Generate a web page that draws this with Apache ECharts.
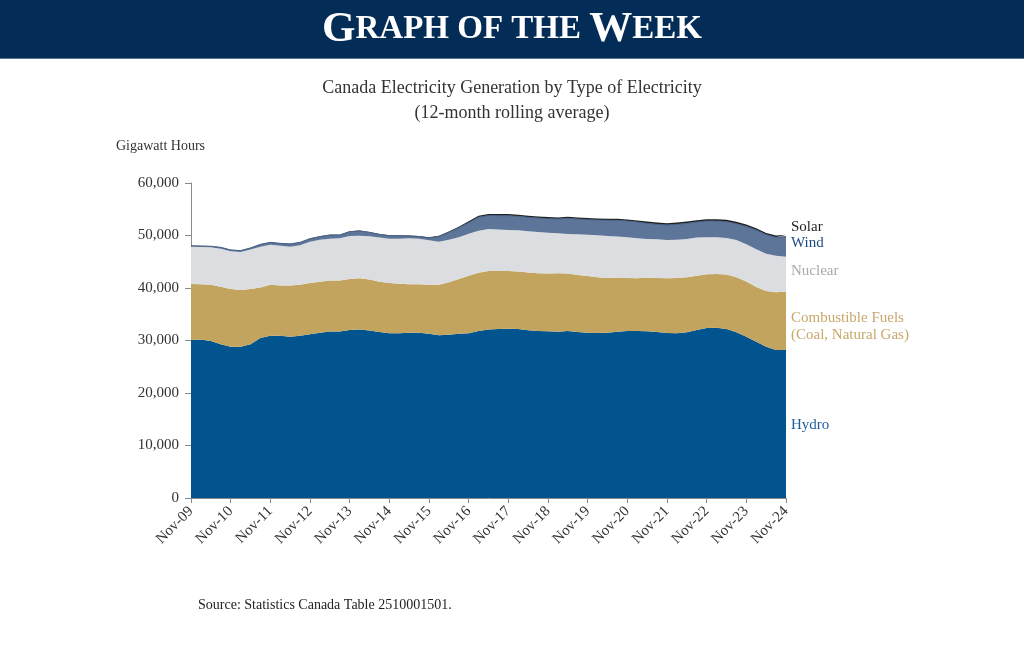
<!DOCTYPE html>
<html>
<head>
<meta charset="utf-8">
<title>Canada Electricity Generation by Type of Electricity</title>
<script src="https://cdn.jsdelivr.net/npm/echarts@6/dist/echarts.min.js"></script>
<style>
  html, body { margin: 0; padding: 0; background: #fff; }
  #main { width: 1024px; height: 664px; }
</style>
</head>
<body>
<div id="main"></div>
<script>
// quarterly points, Nov-09 .. Nov-24 (GWh)
var periods = [
  'Nov-09','Feb-10','May-10','Aug-10','Nov-10','Feb-11','May-11','Aug-11',
  'Nov-11','Feb-12','May-12','Aug-12','Nov-12','Feb-13','May-13','Aug-13',
  'Nov-13','Feb-14','May-14','Aug-14','Nov-14','Feb-15','May-15','Aug-15',
  'Nov-15','Feb-16','May-16','Aug-16','Nov-16','Feb-17','May-17','Aug-17',
  'Nov-17','Feb-18','May-18','Aug-18','Nov-18','Feb-19','May-19','Aug-19',
  'Nov-19','Feb-20','May-20','Aug-20','Nov-20','Feb-21','May-21','Aug-21',
  'Nov-21','Feb-22','May-22','Aug-22','Nov-22','Feb-23','May-23','Aug-23',
  'Nov-23','Feb-24','May-24','Aug-24','Nov-24'
];

var hydro = [
  30100, 30200, 29900, 29300, 28800, 28800, 29300, 30500,
  30900, 30900, 30700, 30900, 31200, 31500, 31700, 31700,
  32000, 32100, 31900, 31600, 31400, 31400, 31500, 31500,
  31300, 31000, 31100, 31300, 31400, 31800, 32100, 32200,
  32250, 32200, 31940, 31810, 31750, 31690, 31810, 31620,
  31500, 31430, 31500, 31690, 31810, 31810, 31750, 31620,
  31430, 31370, 31560, 32000, 32390, 32450, 32200, 31560,
  30730, 29780, 28830, 28190, 28190
];

var fuels = [
  10670, 10500, 10700, 10950, 11000, 10800, 10500, 9600,
  9700, 9600, 9800, 9700, 9750, 9700, 9750, 9750,
  9720, 9750, 9700, 9600, 9550, 9430, 9200, 9200,
  9300, 9600, 10000, 10420, 10950, 11100, 11140, 11040,
  10990, 10920, 10990, 10990, 10990, 11110, 10930, 10860,
  10790, 10610, 10420, 10290, 10110, 10040, 10230, 10300,
  10420, 10550, 10480, 10350, 10220, 10230, 10350, 10480,
  10490, 10420, 10600, 10990, 11120
];

var nuclear = [
  7110, 7120, 7150, 7250, 7200, 7260, 7510, 7780,
  7660, 7570, 7380, 7530, 7880, 8010, 7950, 8020,
  8190, 8120, 8250, 8400, 8450, 8570, 8770, 8700,
  8480, 8230, 8110, 7940, 8000, 8020, 8010, 7880,
  7810, 7870, 7870, 7870, 7800, 7610, 7550, 7740,
  7870, 7990, 7990, 7810, 7740, 7620, 7360, 7360,
  7300, 7290, 7300, 7250, 7050, 6980, 6980, 7110,
  7100, 7170, 7110, 6980, 6660
];

var wind = [
  170, 190, 200, 250, 250, 260, 320, 440,
  440, 440, 510, 570, 570, 580, 700, 630,
  820, 890, 750, 620, 570, 570, 440, 390,
  450, 960, 1390, 1830, 2100, 2580, 2550, 2660,
  2730, 2670, 2670, 2670, 2670, 2740, 2990, 2930,
  2860, 2930, 2990, 3110, 3110, 3110, 2980, 2850,
  2860, 2920, 2980, 2980, 3110, 3110, 3110, 3110,
  3430, 3680, 3620, 3500, 3820
];

var solar = [
  10, 10, 10, 10, 20, 20, 20, 20,
  30, 30, 30, 30, 50, 50, 50, 50,
  80, 80, 80, 80, 100, 100, 100, 100,
  130, 160, 180, 200, 250, 280, 300, 300,
  300, 300, 300, 300, 300, 300, 300, 300,
  300, 300, 300, 300, 300, 300, 340, 340,
  340, 340, 340, 340, 340, 340, 340, 340,
  340, 340, 340, 340, 340
];

var yTicks = [0, 10000, 20000, 30000, 40000, 50000, 60000];

var serif = "'Liberation Serif', 'DejaVu Serif', serif";

var chart = echarts.init(document.getElementById('main'));

function band(name, data, color, line) {
  return {
    name: name,
    type: 'line',
    stack: 'gen',
    data: data,
    symbol: 'none',
    smooth: false,
    lineStyle: line || { width: 0 },
    areaStyle: { color: color, opacity: 1 },
    itemStyle: { color: color },
    emphasis: { disabled: true }
  };
}

var option = {
  backgroundColor: '#ffffff',
  animation: false,
  textStyle: { fontFamily: serif },
  grid: { left: 191, right: 238, top: 183, bottom: 166 },
  xAxis: {
    type: 'category',
    data: periods,
    boundaryGap: false,
    axisLine: { lineStyle: { color: '#8a8a8a', width: 1 } },
    axisTick: { show: true, interval: 3, length: 5, lineStyle: { color: '#8a8a8a' } },
    axisLabel: {
      interval: 3,
      rotate: 45,
      margin: 11,
      color: '#333',
      fontSize: 15,
      fontFamily: serif
    },
    splitLine: { show: false }
  },
  yAxis: {
    type: 'value',
    min: yTicks[0],
    max: yTicks[yTicks.length - 1],
    interval: 10000,
    axisLine: { show: true, lineStyle: { color: '#8a8a8a', width: 1 } },
    axisTick: { show: true, length: 6, lineStyle: { color: '#8a8a8a' } },
    axisLabel: {
      margin: 12,
      color: '#333',
      fontSize: 15,
      fontFamily: serif,
      formatter: function (v) { return v.toLocaleString('en-US'); }
    },
    splitLine: { show: false }
  },
  series: [
    band('Hydro', hydro, '#02548f'),
    band('Combustible Fuels', fuels, '#c3a45e'),
    band('Nuclear', nuclear, '#dcdde0'),
    band('Wind', wind, '#5d7598', { width: 1, color: '#465f84' }),
    band('Solar', solar, '#1e1e1e')
  ],
  graphic: [
    // header bar
    { type: 'rect', left: 0, top: 0, shape: { width: 1024, height: 58 },
      style: { fill: '#032d57' }, silent: true },
    { type: 'rect', left: 0, top: 58, shape: { width: 1024, height: 1 },
      style: { fill: '#5d7598' }, silent: true },
    { type: 'text', left: 'center', top: 8,
      style: {
        text: '{b|G}{s|RAPH OF THE }{b|W}{s|EEK}',
        rich: {
          b: { fontSize: 43, fontFamily: serif, fill: '#fff', fontWeight: 'bold' },
          s: { fontSize: 33, fontFamily: serif, fill: '#fff', fontWeight: 'bold' }
        },
        fill: '#fff'
      } },
    // chart title
    { type: 'text', left: 'center', top: 79,
      style: { text: 'Canada Electricity Generation by Type of Electricity',
        font: '18px ' + serif, fill: '#333' } },
    { type: 'text', left: 'center', top: 104,
      style: { text: '(12-month rolling average)', font: '18px ' + serif, fill: '#333' } },
    { type: 'text', left: 116, top: 139,
      style: { text: 'Gigawatt Hours', font: '14px ' + serif, fill: '#333' } },
    // series labels
    { type: 'text', left: 791, top: 220,
      style: { text: 'Solar', font: '15px ' + serif, fill: '#1e1e1e' } },
    { type: 'text', left: 791, top: 236,
      style: { text: 'Wind', font: '15px ' + serif, fill: '#1b4a80' } },
    { type: 'text', left: 791, top: 264,
      style: { text: 'Nuclear', font: '15px ' + serif, fill: '#a8a9ad' } },
    { type: 'text', left: 791, top: 311,
      style: { text: 'Combustible Fuels', font: '15px ' + serif, fill: '#c7a86a' } },
    { type: 'text', left: 791, top: 328,
      style: { text: '(Coal, Natural Gas)', font: '15px ' + serif, fill: '#c7a86a' } },
    { type: 'text', left: 791, top: 418,
      style: { text: 'Hydro', font: '15px ' + serif, fill: '#1d5d9b' } },
    // source
    { type: 'text', left: 198, top: 598,
      style: { text: 'Source: Statistics Canada Table 2510001501.', font: '14px ' + serif, fill: '#222' } }
  ]
};

chart.setOption(option);
</script>
</body>
</html>
